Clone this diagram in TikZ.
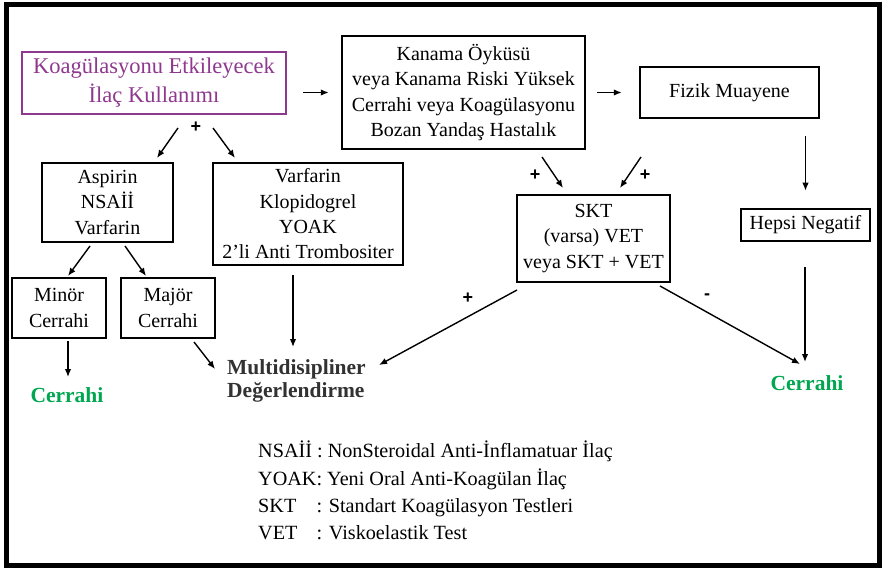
\documentclass[tikz,border=0pt]{standalone}
\usepackage{fontspec}
\setmainfont{Liberation Serif}
\newfontfamily\signfont{Liberation Sans}
\usetikzlibrary{arrows.meta}
\definecolor{mypurple}{RGB}{142,56,142}
\definecolor{mygreen}{RGB}{0,166,80}
\definecolor{darktext}{RGB}{50,50,50}
\begin{document}
\begin{tikzpicture}[x=1pt,y=-1pt,
 box/.style={draw, line width=2.5pt, align=center, inner sep=0pt, font=\fontsize{20}{25.3}\selectfont},
 arr/.style={-{Latex[length=8pt,width=6.5pt]}, line width=1.4pt},
 plus/.style={font=\signfont\fontsize{18}{18}\selectfont\bfseries, inner sep=0pt},
 cerr/.style={text=mygreen, inner sep=0pt, font=\fontsize{21.5}{24}\selectfont\bfseries},
 leg/.style={anchor=base west, inner sep=0pt, font=\fontsize{20.2}{24}\selectfont}]
\useasboundingbox (0,0) rectangle (886,569);
\draw[line width=5pt] (6,4.5) rectangle (879,565);

% boxes
\node[box, draw=mypurple, text=mypurple, line width=2pt, minimum width=264pt, minimum height=62pt,
      font=\fontsize{22.5}{29}\selectfont] (drug) at (154,83) {Koagülasyonu Etkileyecek\\İlaç Kullanımı};
\node[box, minimum width=243pt, minimum height=113pt] (kanama) at (463.5,92.5)
  {Kanama Öyküsü\\veya Kanama Riski Yüksek\\Cerrahi veya Koagülasyonu\\Bozan Yandaş Hastalık};
\node[box, minimum width=179pt, minimum height=51pt] (fizik) at (729.5,92.5) {Fizik Muayene};
\node[box, minimum width=131pt, minimum height=79pt] (asp) at (107.5,202.5) {Aspirin\\NSAİİ\\Varfarin};
\node[box, minimum width=190pt, minimum height=102pt] (varf) at (308,214)
  {Varfarin\\Klopidogrel\\YOAK\\2’li Anti Trombositer};
\node[box, minimum width=94pt, minimum height=60pt] (minor) at (59,308) {Minör\\Cerrahi};
\node[box, minimum width=94pt, minimum height=60pt] (major) at (168,308) {Majör\\Cerrahi};
\node[box, minimum width=153pt, minimum height=87pt] (skt) at (593.5,238.5) {SKT\\(varsa) VET\\veya SKT + VET};
\node[box, minimum width=129pt, minimum height=32pt] (hepsi) at (805.5,225) {Hepsi Negatif};

\node[cerr] (cerrL) at (67,395) {Cerrahi};
\node[cerr] (cerrR) at (807,383) {Cerrahi};
\node[anchor=west, align=left, inner sep=0pt, text=darktext, font=\fontsize{21.5}{23}\selectfont\bfseries] (multi) at (227,381)
  {Multidisipliner\\Değerlendirme};

% signs
\node[plus] (s1) at (196,127) {+};
\node[plus] (s2) at (535,175) {+};
\node[plus] (s3) at (645,175) {+};
\node[plus] (s4) at (468,298) {+};
\node[plus] (s5) at (707,297) {-};

% connector ends
\coordinate (a3s) at (178,128); \coordinate (a3e) at (157,158);
\coordinate (a4s) at (213,128); \coordinate (a4e) at (235,158);
\coordinate (a5s) at (90,246);  \coordinate (a5e) at (68,276);
\coordinate (a6s) at (125,246); \coordinate (a6e) at (146,276);
\coordinate (a7s) at (68,341);  \coordinate (a7e) at (68,377);
\coordinate (a8s) at (194,342); \coordinate (a8e) at (215,369);
\coordinate (a9s) at (293,275); \coordinate (a9e) at (293,347);
\coordinate (a10s) at (517,290); \coordinate (a10e) at (379,365);
\coordinate (a11s) at (542,157); \coordinate (a11e) at (563,188);
\coordinate (a12s) at (641,157); \coordinate (a12e) at (620,188);
\coordinate (a14s) at (805,267); \coordinate (a14e) at (805,362);
\coordinate (a15s) at (660,286); \coordinate (a15e) at (800,364);

% connectors
\draw[arr, shorten <=16pt, shorten >=12pt] (drug.east |- kanama.west) -- (kanama.west);
\draw[arr, shorten <=11pt, shorten >=17pt] (kanama.east) -- (fizik.west);
\draw[arr] (a3s) -- (a3e);
\draw[arr] (a4s) -- (a4e);
\draw[arr] (a5s) -- (a5e);
\draw[arr] (a6s) -- (a6e);
\draw[arr] (a7s) -- (a7e);
\draw[arr] (a8s) -- (a8e);
\draw[arr] (a9s) -- (a9e);
\draw[arr] (a10s) -- (a10e);
\draw[arr] (a11s) -- (a11e);
\draw[arr] (a12s) -- (a12e);
\draw[arr, shorten <=17pt, shorten >=17pt] (hepsi.north |- fizik.south) -- (hepsi.north);
\draw[arr] (a14s) -- (a14e);
\draw[arr] (a15s) -- (a15e);

% legend
\node[leg] (l1) at (258,457) {NSAİİ : NonSteroidal Anti-İnflamatuar İlaç};
\node[leg] (l2) at (258,485) {YOAK: Yeni Oral Anti-Koagülan İlaç};
\node[leg] (l3) at (258,512) {\rlap{SKT}\hphantom{YOAK}: Standart Koagülasyon Testleri};
\node[leg] (l4) at (258,539) {\rlap{VET}\hphantom{YOAK}: Viskoelastik Test};
\end{tikzpicture}
\end{document}
